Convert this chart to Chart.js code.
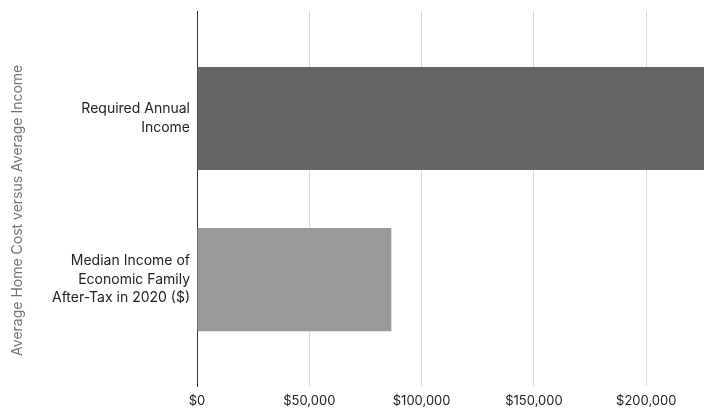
<!DOCTYPE html>
<html>
<head>
<meta charset="utf-8">
<script src="https://cdn.jsdelivr.net/npm/chart.js@4"></script>
<style>
  html, body { margin: 0; padding: 0; background: #fff; }
  #wrap { width: 704px; height: 409px; }
</style>
</head>
<body>
<div id="wrap"><canvas id="incomeChart"></canvas></div>
<script>
// categories (wrapped into lines the way they appear on the axis)
const categories = [
    ['Required Annual', 'Income'],
    ['Median Income of', 'Economic Family', 'After-Tax in 2020 ($)']
];
const incomeValues = [235000, 86500];
const barColors = ['#666666', '#999999'];
const xTicks = [0, 50000, 100000, 150000, 200000];

const FONT = 'Inter';

document.addEventListener('DOMContentLoaded', function() {
    const ctx = document.getElementById('incomeChart').getContext('2d');
    new Chart(ctx, {
        type: 'bar',
        data: {
            datasets: [{
                data: incomeValues.map((v, i) => ({ x: v, y: i })),
                backgroundColor: barColors,
                categoryPercentage: 1,
                barPercentage: 0.64
            }]
        },
        options: {
            indexAxis: 'y',
            responsive: true,
            maintainAspectRatio: false,
            animation: false,
            layout: { padding: { top: 11, right: 0, bottom: 0, left: 0 } },
            plugins: {
                legend: { display: false },
                tooltip: { enabled: false }
            },
            scales: {
                x: {
                    type: 'linear',
                    min: 0,
                    max: 225700,
                    afterBuildTicks: scale => { scale.ticks = xTicks.map(v => ({ value: v })); },
                    afterFit: scale => {
                        scale.height = 23;
                        scale.paddingLeft = 0;
                        scale.paddingRight = 0;
                    },
                    border: { display: false },
                    grid: { color: '#d9d9d9', drawTicks: false },
                    ticks: {
                        padding: 7,
                        color: '#222',
                        font: { family: FONT, size: 13 },
                        maxRotation: 0,
                        callback: v => '$' + v.toLocaleString('en-US')
                    }
                },
                y: {
                    type: 'linear',
                    reverse: true,
                    offset: false,
                    min: -0.667,
                    max: 1.66,
                    afterBuildTicks: scale => { scale.ticks = categories.map((c, i) => ({ value: i })); },
                    afterFit: scale => {
                        scale.width = 197;
                        scale.paddingTop = 0;
                        scale.paddingBottom = 0;
                    },
                    border: { display: true, color: '#333', width: 1 },
                    grid: { display: false, drawTicks: false },
                    ticks: {
                        padding: 7,
                        color: '#222',
                        font: { family: FONT, size: 14, lineHeight: 1.33 },
                        callback: v => categories[v]
                    },
                    title: {
                        display: true,
                        // trailing spaces nudge the rotated title a little lower
                        text: 'Average Home Cost versus Average Income      ',
                        color: '#757575',
                        font: { family: FONT, size: 14 },
                        padding: { top: 9, bottom: 0 }
                    }
                }
            }
        }
    });
});
</script>
</body>
</html>
